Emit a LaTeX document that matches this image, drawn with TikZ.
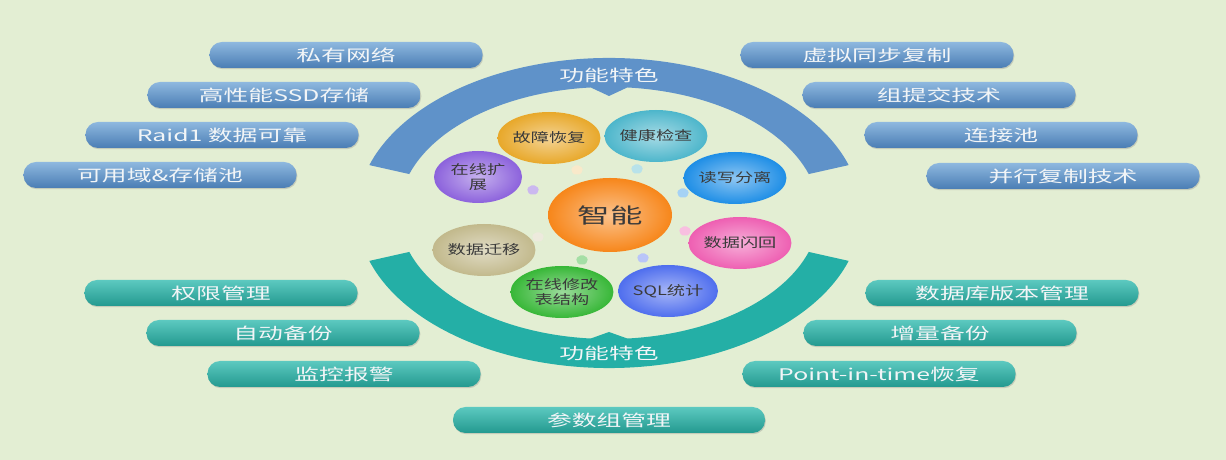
\documentclass[tikz,border=0pt]{standalone}
\usepackage{fontspec}
\usetikzlibrary{positioning,calc,shapes.geometric,shadows}
\newfontfamily\pillfont[FakeStretch=1.55]{Noto Sans CJK SC}
\newfontfamily\ballfont[FakeStretch=1.4]{Noto Sans CJK SC}
\definecolor{paper}{HTML}{E3EED3}
\definecolor{arcBlue}{HTML}{5F92C9}
\definecolor{arcTeal}{HTML}{24AFA6}
\definecolor{pillBlueTop}{HTML}{8EB8DF}
\definecolor{pillBlueBot}{HTML}{4A7DB4}
\definecolor{pillTealTop}{HTML}{5CC9C0}
\definecolor{pillTealBot}{HTML}{23998F}
\definecolor{pillText}{HTML}{F2F5F7}
\definecolor{ballText}{HTML}{3A3A3A}
\definecolor{coreOrange}{HTML}{F7861A}
\definecolor{faultGold}{HTML}{E8A82A}
\definecolor{healthCyan}{HTML}{4DB6CB}
\definecolor{rwBlue}{HTML}{1E8EE6}
\definecolor{flashPink}{HTML}{EE5FB2}
\definecolor{sqlBlue}{HTML}{4F6EEE}
\definecolor{alterGreen}{HTML}{37B737}
\definecolor{moveBeige}{HTML}{C2B98C}
\definecolor{scalePurple}{HTML}{8C62DC}

\tikzset{
  pill/.style={rectangle, rounded corners=12.5, minimum width=273, minimum height=26,
    inner sep=0, text=pillText, font=\pillfont\fontsize{16}{18}\selectfont,
    drop shadow={shadow xshift=0.8, shadow yshift=-1.2, opacity=0.3}},
  bluepill/.style={pill, top color=pillBlueTop, bottom color=pillBlueBot},
  tealpill/.style={pill, top color=pillTealTop, bottom color=pillTealBot},
  ball/.style={ellipse, inner sep=0, minimum width=88, minimum height=52, align=center,
    text=ballText, font=\ballfont\fontsize{13}{15}\selectfont,
    inner color=#1!50!white, outer color=#1},
  arclabel/.style={text=pillText, font=\pillfont\fontsize{16}{18}\selectfont}
}

\begin{document}
\begin{tikzpicture}[x=1pt,y=1pt]
  \fill[paper] (0,0) rectangle (1226,460);
  \useasboundingbox (0,0) rectangle (1226,460);
  \coordinate (ctr) at (609,247);

  % upper band
  \fill[arcBlue] ($(ctr)+(18:252 and 155)$) arc[start angle=18,end angle=162,x radius=252,y radius=155]
    -- ($(ctr)+(162:210 and 126)$) arc[start angle=162,end angle=95,x radius=210,y radius=126]
    -- ($(ctr)+(0,117)$) -- ($(ctr)+(85:210 and 126)$)
    arc[start angle=85,end angle=18,x radius=210,y radius=126] -- cycle;
  \node[arclabel] (topLab) at (609,385) {功能特色};

  % lower band
  \fill[arcTeal] ($(ctr)+(198:252 and 155)$) arc[start angle=198,end angle=342,x radius=252,y radius=155]
    -- ($(ctr)+(342:210 and 126)$) arc[start angle=342,end angle=275,x radius=210,y radius=126]
    -- ($(ctr)+(0,-119)$) -- ($(ctr)+(265:210 and 126)$)
    arc[start angle=265,end angle=198,x radius=210,y radius=126] -- cycle;
  \node[arclabel] (botLab) at (609,107) {功能特色};

  % blue pills
  \foreach \n/\x/\y/\lab in {1/346/405/私有网络, 2/284/365/高性能SSD存储,
      3/222/325/Raid1 数据可靠, 4/160/285/可用域\&存储池}
    \node[bluepill] (lt\n) at (\x,\y) {\lab};
  \foreach \n/\x/\y/\lab in {1/877/405/虚拟同步复制, 2/939/365/组提交技术,
      3/1001/325/连接池, 4/1063/284/并行复制技术}
    \node[bluepill] (rt\n) at (\x,\y) {\lab};

  % teal pills
  \foreach \n/\x/\y/\lab in {1/221/167/权限管理, 2/283/127/自动备份, 3/344/86/监控报警}
    \node[tealpill] (lb\n) at (\x,\y) {\lab};
  \foreach \n/\x/\y/\lab in {1/1002/167/数据库版本管理, 2/940/127/增量备份,
      3/879/86/Point-in-time恢复}
    \node[tealpill] (rb\n) at (\x,\y) {\lab};
  \node[tealpill, minimum width=312] (param) at (609,40) {参数组管理};

  % small blobs
  \foreach \x/\y/\c in {637/291/healthCyan!40, 533/270/scalePurple!45, 577/290/faultGold!25,
      683/267/rwBlue!40, 685/229/flashPink!40, 538/223/moveBeige!30,
      582/200/alterGreen!45, 643/202/sqlBlue!40}
    \fill[\c, rounded corners=1.5] (\x,\y) +(90:6.5 and 5.5) -- +(162:6.5 and 5.5)
      -- +(234:6.5 and 5.5) -- +(306:6.5 and 5.5) -- +(18:6.5 and 5.5) -- cycle;

  % bubbles
  \node[ball=coreOrange, minimum width=124, minimum height=74,
    font=\pillfont\fontsize{21}{24}\selectfont] (core) at (610,245) {智能};
  \node[ball=faultGold] (fault) at (549,322) {故障恢复};
  \node[ball=healthCyan] (health) at (656,324) {健康检查};
  \node[ball=rwBlue] (rw) at (735,282) {读写分离};
  \node[ball=flashPink] (flash) at (740,217) {数据闪回};
  \node[ball=sqlBlue] (sql) at (668,169) {SQL统计};
  \node[ball=alterGreen] (alter) at (562,168) {在线修改\\表结构};
  \node[ball=moveBeige] (move) at (484,210) {数据迁移};
  \node[ball=scalePurple] (scale) at (478,283) {在线扩\\展};
\end{tikzpicture}
\end{document}
